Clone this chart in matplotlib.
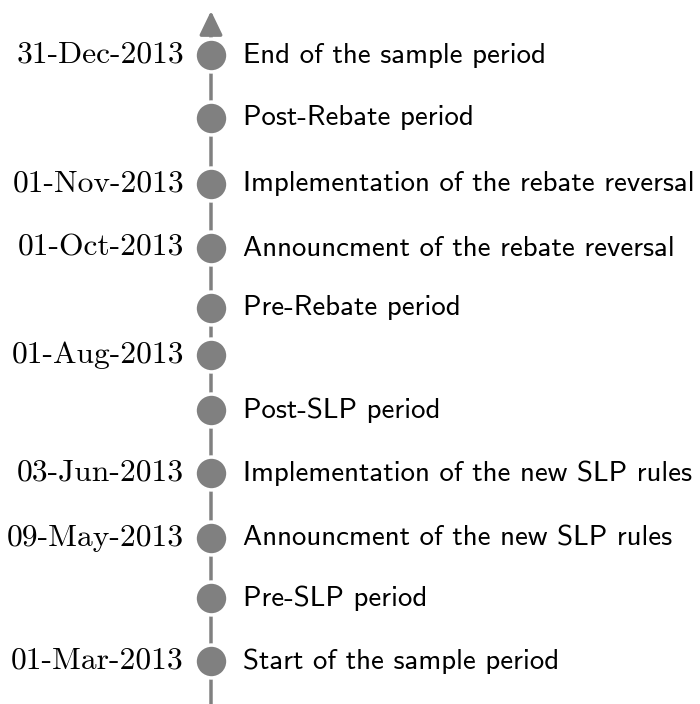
import matplotlib.pyplot as plt
import numpy as np

# timeline events, top to bottom
dates = ["31-Dec-2013", "", "01-Nov-2013", "01-Oct-2013", "", "01-Aug-2013",
         "", "03-Jun-2013", "09-May-2013", "", "01-Mar-2013"]
events = ["End of the sample period", "Post-Rebate period",
          "Implementation of the rebate reversal",
          "Announcment of the rebate reversal", "Pre-Rebate period", "",
          "Post-SLP period", "Implementation of the new SLP rules",
          "Announcment of the new SLP rules", "Pre-SLP period",
          "Start of the sample period"]
levels = [55, 118, 184, 248, 308, 355, 410, 473, 538, 598, 661]

gray = "#808080"

fig = plt.figure(figsize=(7, 7.04), dpi=100)
ax = fig.add_axes([0, 0, 1, 1])
ax.set_xlim(0, 700)
ax.set_ylim(704, 0)
ax.axis("off")

x0 = 211
# main axis with arrow
ax.annotate("", xy=(x0, 11), xytext=(x0, 704),
            arrowprops=dict(arrowstyle="-|>,head_length=1.45,head_width=0.7",
                            color=gray, lw=2.5, shrinkA=0, shrinkB=0))

ax.scatter([x0] * len(levels), levels, s=560, color=gray,
           edgecolors="white", linewidths=2.5, zorder=3)

for y, d, e in zip(levels, dates, events):
    if d:
        ax.text(184, y, d, ha="right", va="center", fontsize=22.7,
                family="cmr10")
    if e:
        ax.text(243, y, e, ha="left", va="center", fontsize=20.8,
                family="cmss10")

plt.savefig("out.png")
